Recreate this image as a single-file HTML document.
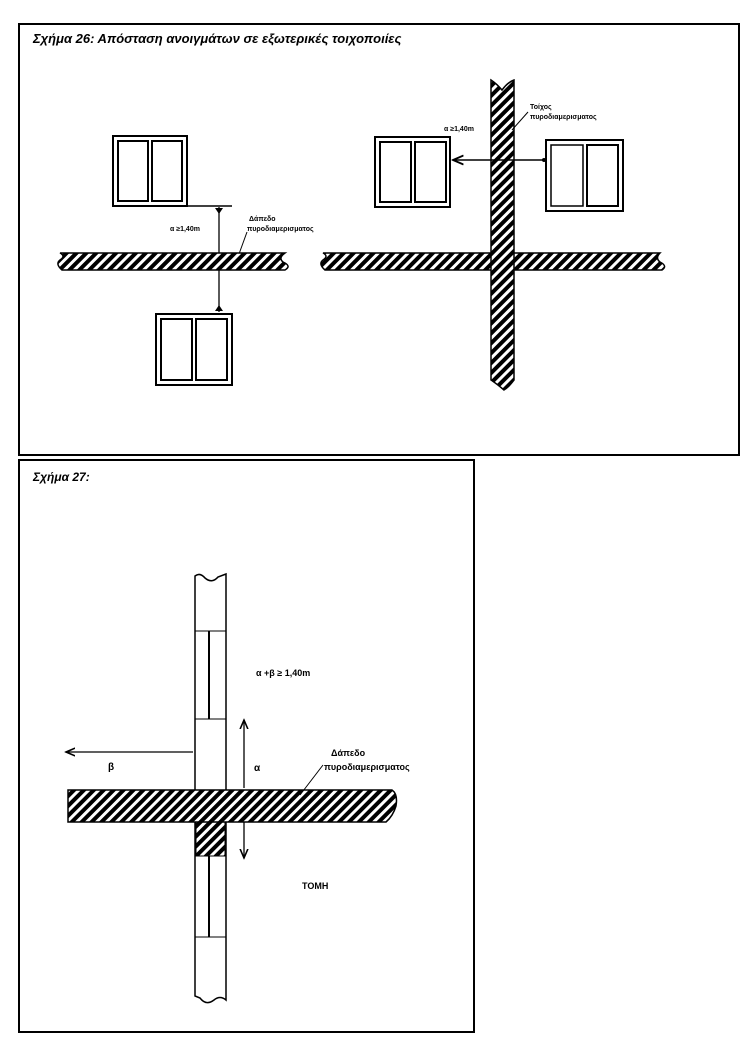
<!DOCTYPE html>
<html><head><meta charset="utf-8"><style>
html,body{margin:0;padding:0;background:#fff;width:750px;height:1044px;overflow:hidden}
svg{display:block}
text{font-family:"Liberation Sans",sans-serif;fill:#000}
</style></head><body>
<svg width="750" height="1044" viewBox="0 0 750 1044" xmlns="http://www.w3.org/2000/svg">
<defs>
<pattern id="h" width="7" height="7" patternUnits="userSpaceOnUse" patternTransform="rotate(45)">
<rect width="7" height="7" fill="#fff"/><rect width="4" height="7" fill="#000"/>
</pattern>
<marker id="a" markerWidth="8" markerHeight="8" refX="7" refY="4" orient="auto"><path d="M0,1 L7,4 L0,7" fill="none" stroke="#000" stroke-width="1.2"/></marker>
</defs>
<!-- Box 1 -->
<rect x="19" y="24" width="720" height="431" fill="none" stroke="#000" stroke-width="2"/>
<text x="33" y="43" font-size="13" font-weight="bold" font-style="italic">Σχήμα 26: Απόσταση ανοιγμάτων σε εξωτερικές τοιχοποιίες</text>

<g fill="none" stroke="#000">
<rect x="113" y="136" width="74" height="70" stroke-width="2"/>
<rect x="118" y="141" width="30" height="60" stroke-width="2"/>
<rect x="152" y="141" width="30" height="60" stroke-width="2"/>
<rect x="156" y="314" width="76" height="71" stroke-width="2"/>
<rect x="161" y="319" width="31" height="61" stroke-width="2"/>
<rect x="196" y="319" width="31" height="61" stroke-width="2"/>
</g>
<line x1="187" y1="206" x2="232" y2="206" stroke="#000" stroke-width="1.5"/>
<line x1="219" y1="207" x2="219" y2="312" stroke="#000" stroke-width="1.3"/>
<path d="M215,208 L219,214 L223,208 Z M215,311 L219,305 L223,311 Z" fill="#000"/>
<text x="170" y="231" font-size="7" font-weight="bold">α ≥1,40m</text>
<text x="249" y="221" font-size="7" font-weight="bold">Δάπεδο</text>
<text x="247" y="231" font-size="7" font-weight="bold">πυροδιαμερισματος</text>
<line x1="247" y1="232" x2="239" y2="254" stroke="#000"/>
<path d="M60,253 L285,253 Q278,258 283,262 Q292,266 285,270 L62,270 Q55,264 60,260 Q66,256 60,253 Z" fill="url(#h)" stroke="#000" stroke-width="1.5"/>

<path d="M323,253 L660,253 Q655,258 660,262 Q668,266 662,270 L325,270 Q318,264 323,260 Q329,256 323,253 Z" fill="url(#h)" stroke="#000" stroke-width="1.5"/>
<path d="M491,80 Q497,84 502,90 Q508,82 514,80 L514,380 Q508,388 504,390 Q497,384 491,380 Z" fill="url(#h)" stroke="#000" stroke-width="1.5"/>
<g fill="none" stroke="#000">
<rect x="375" y="137" width="75" height="70" stroke-width="2"/>
<rect x="380" y="142" width="31" height="60" stroke-width="2"/>
<rect x="415" y="142" width="31" height="60" stroke-width="2"/>
<rect x="546" y="140" width="77" height="71" stroke-width="2"/>
<rect x="551" y="145" width="32" height="61" stroke-width="1.5"/>
<rect x="587" y="145" width="31" height="61" stroke-width="2"/>
</g>
<line x1="544" y1="160" x2="453" y2="160" stroke="#000" stroke-width="1.5" marker-end="url(#a)"/>
<circle cx="544" cy="160" r="2" fill="#000"/>
<text x="444" y="131" font-size="7" font-weight="bold">α ≥1,40m</text>
<text x="530" y="109" font-size="7" font-weight="bold">Τοίχος</text>
<text x="530" y="119" font-size="7" font-weight="bold">πυροδιαμερισματος</text>
<line x1="528" y1="112" x2="512" y2="130" stroke="#000"/>

<!-- Box 2 -->
<rect x="19" y="460" width="455" height="572" fill="none" stroke="#000" stroke-width="2"/>
<text x="33" y="481" font-size="12" font-weight="bold" font-style="italic">Σχήμα 27:</text>

<path d="M195,576 Q200,572 205,578 Q212,584 218,577 L226,574 L226,1000 Q220,995 214,1000 Q206,1006 200,998 L195,996 Z" fill="#fff" stroke="#000" stroke-width="1.5"/>
<line x1="195" y1="631" x2="226" y2="631" stroke="#000"/>
<line x1="195" y1="719" x2="226" y2="719" stroke="#000"/>
<line x1="209" y1="631" x2="209" y2="719" stroke="#000" stroke-width="2"/>
<line x1="195" y1="856" x2="226" y2="856" stroke="#000"/>
<line x1="195" y1="937" x2="226" y2="937" stroke="#000"/>
<line x1="209" y1="856" x2="209" y2="937" stroke="#000" stroke-width="2"/>
<rect x="196" y="822" width="29" height="34" fill="url(#h)" stroke="#000"/>
<path d="M68,790 L392,790 Q398,794 396,806 Q393,816 386,822 L68,822 Z" fill="url(#h)" stroke="#000" stroke-width="1.5"/>
<line x1="193" y1="752" x2="66" y2="752" stroke="#000" stroke-width="1.3" marker-end="url(#a)"/>
<line x1="244" y1="788" x2="244" y2="720" stroke="#000" stroke-width="1.3" marker-end="url(#a)"/>
<line x1="244" y1="822" x2="244" y2="858" stroke="#000" stroke-width="1.3" marker-end="url(#a)"/>
<text x="256" y="676" font-size="9" font-weight="bold">α +β ≥ 1,40m</text>
<text x="108" y="770" font-size="10" font-weight="bold">β</text>
<text x="254" y="771" font-size="10" font-weight="bold">α</text>
<text x="331" y="756" font-size="9" font-weight="bold">Δάπεδο</text>
<text x="324" y="770" font-size="9" font-weight="bold">πυροδιαμερισματος</text>
<line x1="323" y1="765" x2="300" y2="795" stroke="#000"/>
<text x="302" y="889" font-size="9" font-weight="bold">ΤΟΜΗ</text>
</svg>
</body></html>
